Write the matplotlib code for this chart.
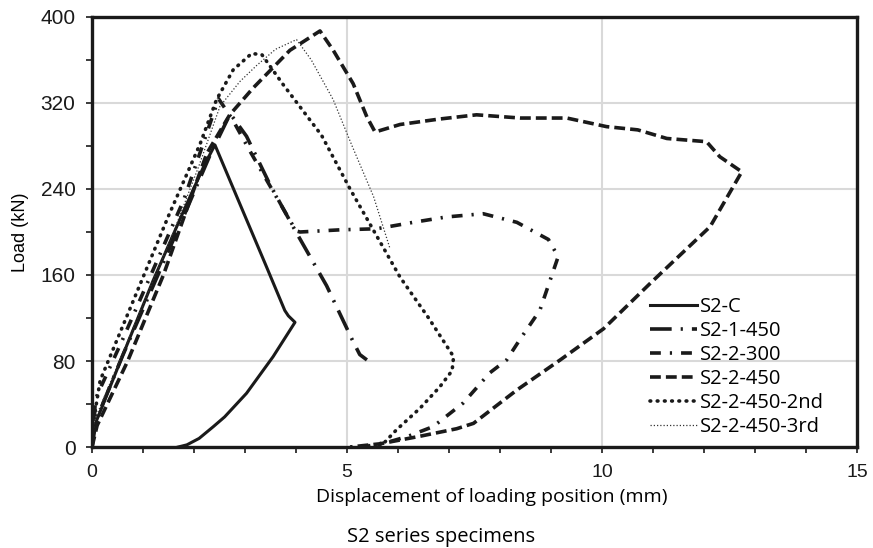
"""
Load vs displacement curves for the S2 series specimens.
"""

# Imports #
import numpy as np
from matplotlib import pyplot as plt
from matplotlib.ticker import MultipleLocator

# Data (displacement in mm, load in kN) #
s2c_x = [0, 0.05, 0.6, 1.2, 1.8, 2.2, 2.41, 2.9, 3.4, 3.78, 3.85, 3.98,
         3.55, 3.03, 2.6, 2.38, 2.1, 1.86, 1.69]
s2c_y = [0, 20, 85, 155, 220, 262, 281, 226, 170, 127, 122, 116,
         84, 50, 28, 19, 8, 2, 0]

s21_450_x = [0, 0.08, 0.6, 1.2, 1.8, 2.3, 2.71, 3.03, 3.49, 4.0, 4.6, 5.12, 5.25, 5.39]
s21_450_y = [0, 25, 85, 150, 215, 270, 310, 289, 244, 200, 150, 98, 86, 81]

s22_300_x = [0, 0.07, 0.6, 1.2, 1.8, 2.2, 2.48, 2.75, 3.1, 3.5, 4.0, 4.08, 4.86,
             5.58, 6.3, 6.95, 7.67, 8.33, 8.95, 9.14, 8.78, 8.39, 8.13, 7.8,
             7.28, 6.69, 6.2, 5.84, 5.32]
s22_300_y = [0, 45, 100, 165, 230, 285, 324, 305, 275, 242, 201, 200, 202,
             203, 209, 214, 217, 209, 193, 177, 127, 100, 81, 69,
             41, 19, 10, 5, 0]

s22_450_x = [0, 0.1, 0.7, 1.4, 2.0, 2.25, 2.7, 3.16, 3.88, 4.47, 4.73, 5.12, 5.39,
             5.55, 6.04, 6.8, 7.54, 8.4, 9.31, 10.09, 10.7, 11.27, 12.05, 12.31,
             12.74, 12.12, 10.94, 10.03, 9.18, 8.33, 7.48, 7.15, 6.43, 5.65, 5.06]
s22_450_y = [0, 20, 80, 160, 240, 273, 309, 334, 369, 387, 369, 338, 307,
             293, 300, 305, 309, 306, 306, 298, 295, 287, 284, 270,
             256, 205, 152, 110, 81, 53, 22, 17, 10, 3, 0]

s22_2nd_x = [0, 0.05, 0.16, 0.8, 1.5, 2.12, 2.44, 2.77, 3.13, 3.33, 3.75, 4.5,
             5.06, 6.04, 6.6, 7.09, 7.06, 6.82, 6.43, 5.97, 5.71, 5.6]
s22_2nd_y = [0, 30, 62, 135, 215, 282, 323, 351, 366, 365, 337, 290,
             240, 158, 120, 84, 71, 56, 36, 16, 3, 0]

s22_3rd_x = [0, 0.05, 0.8, 1.6, 2.1, 2.51, 2.9, 3.23, 3.6, 4.01, 4.3, 4.73, 5.1, 5.52, 5.84]
s22_3rd_y = [0, 25, 110, 200, 262, 317, 340, 355, 370, 379, 360, 323, 280, 233, 185]

x_ticks = [0, 5, 10, 15]
y_ticks = [0, 80, 160, 240, 320, 400]

fig = plt.figure(figsize=(8.73, 5.48), dpi=100)
ax = fig.add_axes([0.1054, 0.1843, 0.8763, 0.7847])

# Curves, same order as the legend
ax.plot(s2c_x, s2c_y, color='#1a1a1a', lw=2.2, ls='-', label='S2-C')
ax.plot(s21_450_x, s21_450_y, color='#1a1a1a', lw=2.6,
        ls=(0, (6, 2.5, 0.6, 2.5)), label='S2-1-450')
ax.plot(s22_300_x, s22_300_y, color='#1a1a1a', lw=2.6,
        ls=(0, (3, 2.5, 0.6, 2.5)), label='S2-2-300')
ax.plot(s22_450_x, s22_450_y, color='#1a1a1a', lw=2.6,
        ls=(0, (3, 1.4)), label='S2-2-450')
ax.plot(s22_2nd_x, s22_2nd_y, color='#1a1a1a', lw=2.6,
        ls=(0, (0.2, 1.8)), dash_capstyle='round', label='S2-2-450-2nd')
ax.plot(s22_3rd_x, s22_3rd_y, color='#333333', lw=0.9,
        ls=(0, (1, 1.6)), label='S2-2-450-3rd')

ax.set_xlim(0, 15)
ax.set_ylim(0, 400)
ax.set_xticks(x_ticks)
ax.set_yticks(y_ticks)
ax.xaxis.set_minor_locator(MultipleLocator(1))
ax.yaxis.set_minor_locator(MultipleLocator(40))
ax.grid(True, which='major', color='#d9d9d9', lw=1.5)
ax.set_axisbelow(True)

for side in ax.spines:
    ax.spines[side].set_linewidth(2.4)
    ax.spines[side].set_color('#1a1a1a')

ax.tick_params(which='both', direction='out', width=1.2, length=4.3,
               colors='#1a1a1a')
ax.tick_params(axis='y', which='major', labelsize=15, pad=7.6)
ax.tick_params(axis='x', which='major', labelsize=14, pad=8)
for lbl in ax.get_xticklabels() + ax.get_yticklabels():
    lbl.set_family('Liberation Sans')

ax.set_ylabel('Load (kN)', fontsize=13, family='Liberation Sans')
ax.yaxis.set_label_coords(-0.082, 0.5)
ax.set_xlabel('Displacement of loading position (mm)', fontsize=14,
              family='Open Sans')
ax.xaxis.label.set_va('center')
ax.xaxis.set_label_coords(0.522, -0.116)

fig.text(0.505, 0.02, 'S2 series specimens', ha='center', va='center',
         fontsize=14.5, family='Open Sans')

ax.legend(loc='lower left', bbox_to_anchor=(0.729, 0.023), frameon=False,
          prop={'family': 'Open Sans', 'size': 14.5}, handlelength=2.33,
          handletextpad=0.15, labelspacing=0.2, borderaxespad=0, borderpad=0)

fig.savefig('out.png', dpi=100)
